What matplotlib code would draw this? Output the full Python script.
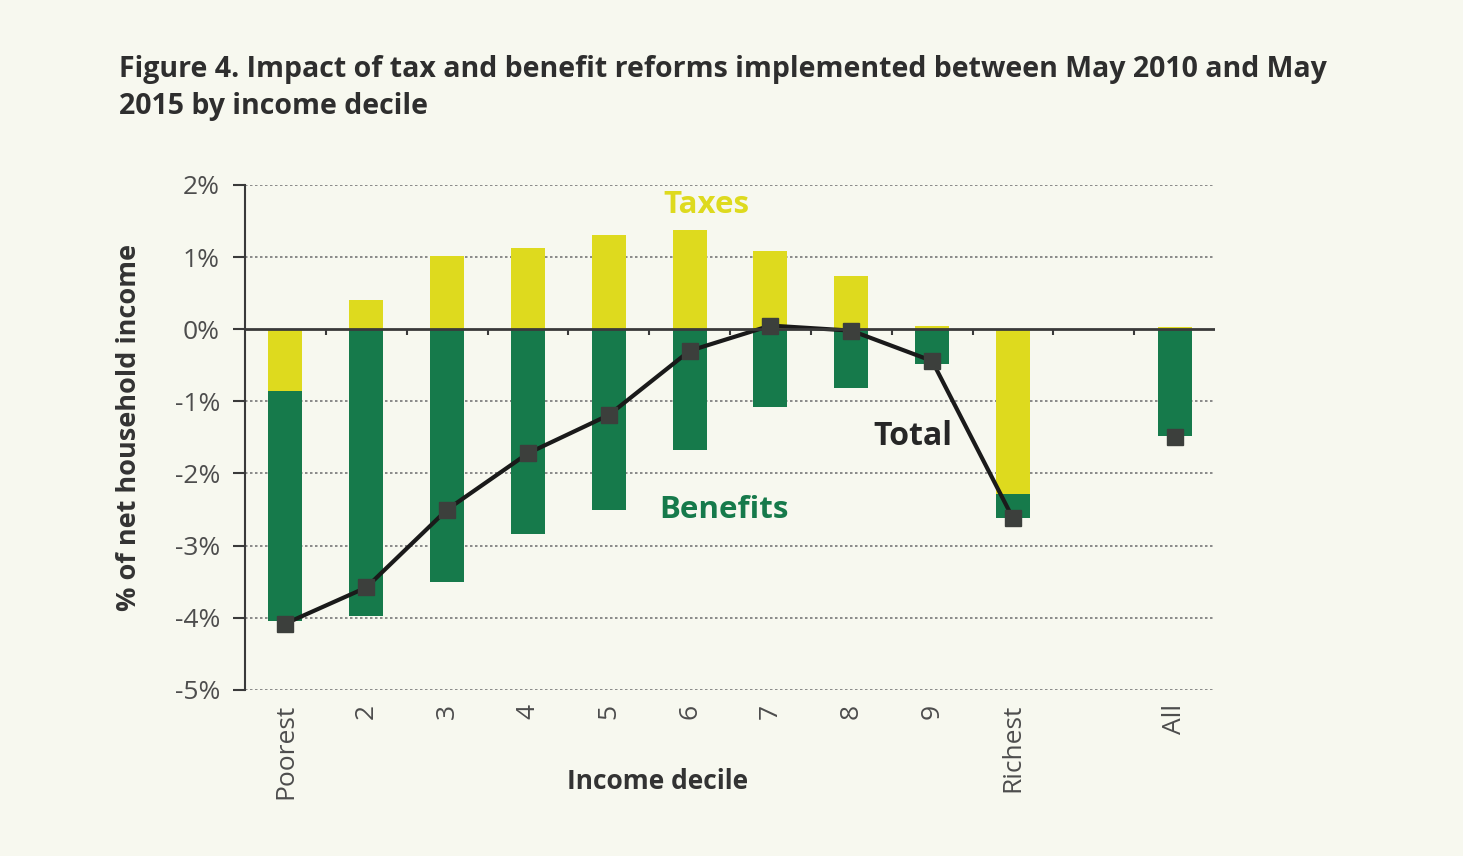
import matplotlib.pyplot as plt
import numpy as np

# DATA
deciles = ["Poorest", "2", "3", "4", "5", "6", "7", "8", "9", "Richest", "", "All"]
taxes = [-0.85, 0.40, 1.02, 1.12, 1.31, 1.38, 1.08, 0.74, 0.04, -2.28, np.nan, 0.03]
benefits = [-3.20, -3.97, -3.50, -2.84, -2.50, -1.68, -1.08, -0.81, -0.48, -0.33, np.nan, -1.48]
total = [-4.08, -3.58, -2.50, -1.72, -1.19, -0.30, 0.05, -0.02, -0.44, -2.62, np.nan, -1.50]
y_ticks = [2, 1, 0, -1, -2, -3, -4, -5]

YELLOW = "#DEDA1E"
GREEN = "#167A4B"
BG = "#F7F8EF"
GREY = "#4d4d4d"

plt.rcParams['font.family'] = ['Open Sans', 'DejaVu Sans']

fig = plt.figure(figsize=(14.63, 8.56), dpi=100, facecolor=BG)
ax = fig.add_axes([0.1675, 0.194, 0.663, 0.590], facecolor=BG)

x = np.arange(len(deciles))
taxes = np.array(taxes)
benefits = np.array(benefits)

# stacked: benefits start at 0 if taxes positive, otherwise below the taxes bar
ben_base = np.where(taxes < 0, taxes, 0)
ax.bar(x, taxes, width=0.42, color=YELLOW, zorder=2)
ax.bar(x, benefits, width=0.42, bottom=ben_base, color=GREEN, zorder=2)

# total line across deciles, All marker on its own
ax.plot(x[:10], total[:10], color="#1a1a1a", lw=3, zorder=3)
ax.plot(x, total, ls="none", marker="s", ms=12, color="#3c3f3c", zorder=4)

# grid + zero line
for yv in y_ticks:
    if yv != 0:
        ax.axhline(yv, color="#777777", lw=1.2, ls=(0, (1.5, 1.5)), zorder=1)
ax.axhline(0, color="#3a3a3a", lw=2, zorder=3)
ax.vlines(x[:-1] + 0.5, -0.08, 0, color="#3a3a3a", lw=1.5, zorder=3)

ax.set_xlim(-0.5, len(deciles) - 0.5)
ax.set_ylim(-5, 2)
ax.set_yticks(y_ticks)
ax.set_yticklabels([f"{v}%" for v in y_ticks], fontsize=19, color=GREY)
ax.set_xticks(x)
ax.set_xticklabels(deciles, rotation=90, fontsize=19, color=GREY)
ax.tick_params(axis="x", length=0, pad=10)
ax.tick_params(axis="y", length=9, width=1.5, color="#3a3a3a", pad=9)

for s in ["top", "right", "bottom"]:
    ax.spines[s].set_visible(False)
ax.spines["left"].set_color("#3a3a3a")
ax.spines["left"].set_linewidth(1.5)

ax.set_xlabel("Income decile", fontsize=19, fontweight="bold", color="#333333")
ax.xaxis.set_label_coords(0.425, -0.182)
ax.xaxis.label.set_va("center")
ax.set_ylabel("% of net household income", fontsize=19.5, fontweight="bold", color="#333333")
ax.yaxis.set_label_coords(-0.12, 0.52)
ax.yaxis.label.set_va("center")

# series labels
ax.text(5.21, 1.72, "Taxes", color=YELLOW, fontsize=22.5, fontweight="bold", ha="center", va="center")
ax.text(5.43, -2.51, "Benefits", color=GREEN, fontsize=22.5, fontweight="bold", ha="center", va="center")
ax.text(7.76, -1.49, "Total", color="#262626", fontsize=23, fontweight="bold", ha="center", va="center")

fig.text(0.081, 0.897, "Figure 4. Impact of tax and benefit reforms implemented between May 2010 and May\n"
         "2015 by income decile", fontsize=20.5, fontweight="bold", color="#2e2e2e",
         ha="left", va="center", linespacing=1.35)

fig.savefig("out.png", dpi=100, facecolor=BG)
